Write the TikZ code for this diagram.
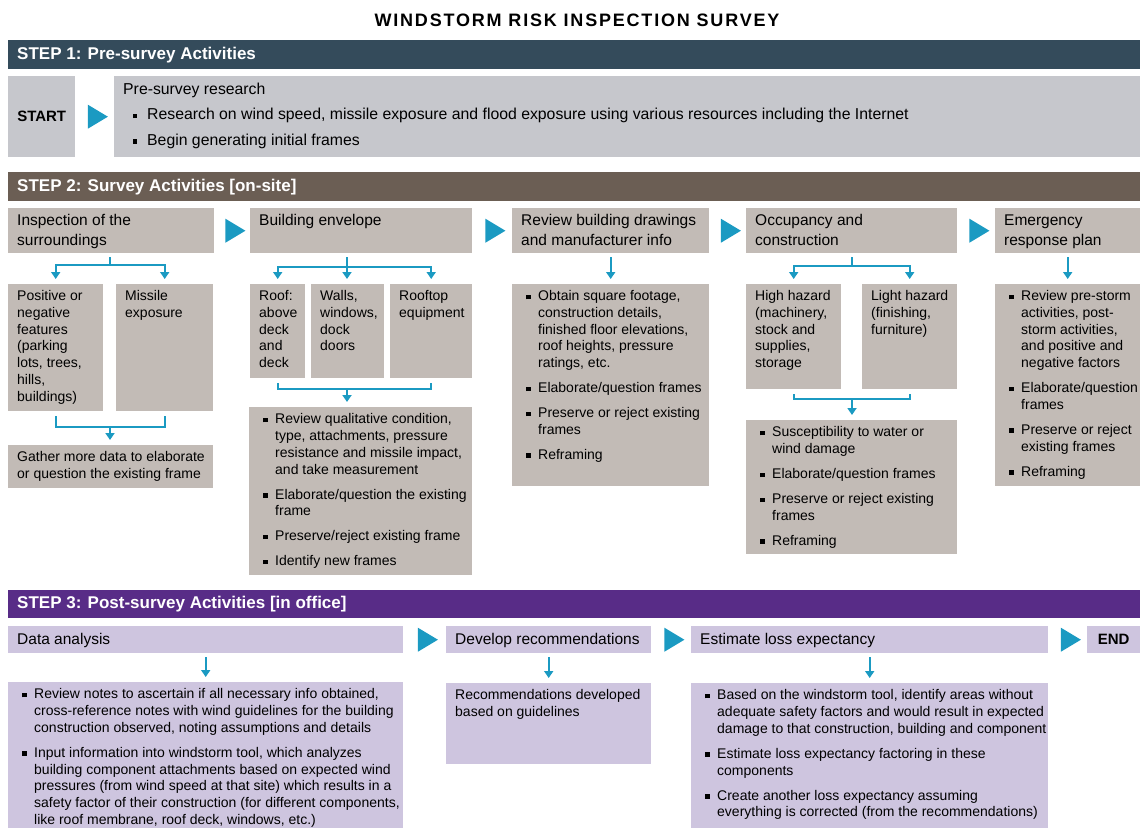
\documentclass[tikz,border=0pt]{standalone}
\usepackage{fontspec}
\setmainfont{Liberation Sans}
\newfontfamily\titlefont[LetterSpace=10]{Liberation Sans}
\usetikzlibrary{arrows.meta,%
	shapes.geometric}

\definecolor{barone}{HTML}{344B5B}
\definecolor{bartwo}{HTML}{6B5E54}
\definecolor{barthree}{HTML}{582C87}
\definecolor{cellone}{HTML}{C6C7CC}
\definecolor{celltwo}{HTML}{C2BBB6}
\definecolor{cellthree}{HTML}{CEC5DF}
\definecolor{flow}{HTML}{1B9AC2}

\newlength{\bulhang}\setlength{\bulhang}{17pt}
\newlength{\bulpre}\setlength{\bulpre}{5pt}
\newlength{\bulgap}\setlength{\bulgap}{8.3pt}
\newif\iffirstbul
\newcommand{\br}{\newline}
\newcommand{\bul}{\par\iffirstbul\firstbulfalse\else\vskip\bulgap\fi
	\noindent\hangindent=\bulhang\hangafter=1%
	\hbox to\bulhang{\hskip\bulpre\rule[1.5pt]{4.5pt}{4.5pt}\hfil}\ignorespaces}
% fixed size box, text hung from the top edge
\newcommand{\Cell}[4][5pt]{\vbox to #3pt{\hsize=#2pt\leftskip=9pt\rightskip=-60pt plus 1fil
	\parindent=0pt\parskip=0pt\parfillskip=0pt plus 1fil\everypar{\strut}\firstbultrue
	\vskip#1\relax #4\par\vfil}}

\tikzset{
	cell/.style={anchor=north west, inner sep=0pt, fill=#1, font=\fontsize{14}{16.7}\selectfont},
	head/.style={cell=#1, font=\fontsize{15.5}{20}\selectfont},
	bar/.style={anchor=north west, inner sep=0pt, fill=#1, text=white, minimum height=29pt,
		font=\fontsize{17}{20}\selectfont\bfseries},
	tri/.style={isosceles triangle, isosceles triangle stretches, fill=flow,
		inner sep=0pt, minimum width=24pt, minimum height=20pt},
	fork/.style={draw=flow, line width=1.8pt},
	branch/.style={fork, -{Triangle[width=9pt,length=7pt]}, shorten >=5pt},
	link/.style={branch, shorten <=4pt}
}

\begin{document}
\begin{tikzpicture}[x=1pt, y=-1pt]
\useasboundingbox (0,0) rectangle (1140,828);

\node[font=\titlefont\bfseries\fontsize{18}{22}\selectfont] (ttl) at (577,20) {WINDSTORM RISK INSPECTION SURVEY};

% step 1
\node[bar=barone] (bar1) at (8,40) {\hbox to 1132pt{\hskip9pt STEP 1: Pre-survey Activities\hfil}};
\node[cell=cellone, minimum width=67pt, minimum height=81pt, font=\fontsize{15}{18}\selectfont\bfseries] (start) at (8,76) {START};
\node[cell=cellone, font=\fontsize{15.8}{18.9}\selectfont] (pre) at (114,76) {\Cell[4.8pt]{1026}{81}{\bulhang=24pt\bulpre=9.75pt\bulgap=6.6pt\firstbulfalse
	Pre-survey research
	\bul Research on wind speed, missile exposure and flood exposure using various resources including the Internet
	\bul Begin generating initial frames}};
\path (start) -- node[tri] {} (pre);

% step 2
\node[bar=bartwo] (bar2) at (8,172) {\hbox to 1132pt{\hskip9pt STEP 2: Survey Activities [on-site]\hfil}};
\node[head=celltwo] (insp) at (8,208) {\Cell[3pt]{206}{45}{Inspection of the\br surroundings}};
\node[head=celltwo] (env) at (250,208) {\Cell[3pt]{222}{45}{Building envelope}};
\node[head=celltwo] (dwg) at (512,208) {\Cell[3pt]{197}{45}{Review building drawings\br and manufacturer info}};
\node[head=celltwo] (occ) at (746,208) {\Cell[3pt]{211}{45}{Occupancy and\br construction}};
\node[head=celltwo] (emer) at (995,208) {\Cell[3pt]{145}{45}{Emergency\br response plan}};
\path (insp) -- node[tri] {} (env);
\path (env) -- node[tri] {} (dwg);
\path (dwg) -- node[tri] {} (occ);
\path (occ) -- node[tri] {} (emer);

\node[cell=celltwo] (pos) at (8,284) {\Cell{95}{127}{Positive or\br negative\br features\br (parking\br lots, trees,\br hills,\br buildings)}};
\node[cell=celltwo] (mis) at (116,284) {\Cell{97}{127}{Missile\br exposure}};
\node[cell=celltwo] (gath) at (8,445) {\Cell{205}{43}{Gather more data to elaborate\br or question the existing frame}};

\node[cell=celltwo] (roof) at (250,284) {\Cell{55}{94}{Roof:\br above\br deck\br and\br deck}};
\node[cell=celltwo] (walls) at (311,284) {\Cell{73}{94}{Walls,\br windows,\br dock\br doors}};
\node[cell=celltwo] (rtop) at (390,284) {\Cell{82}{94}{Rooftop\br equipment}};
\node[cell=celltwo] (rev) at (249,407) {\Cell{223}{168}{%
	\bul Review qualitative condition,\br type, attachments, pressure\br resistance and missile impact,\br and take measurement
	\bul Elaborate/question the existing\br frame
	\bul Preserve/reject existing frame
	\bul Identify new frames}};

\node[cell=celltwo] (obt) at (512,284) {\Cell{197}{202}{%
	\bul Obtain square footage,\br construction details,\br finished floor elevations,\br roof heights, pressure\br ratings, etc.
	\bul Elaborate/question frames
	\bul Preserve or reject existing\br frames
	\bul Reframing}};

\node[cell=celltwo] (high) at (746,284) {\Cell{95}{105}{High hazard\br (machinery,\br stock and\br supplies,\br storage}};
\node[cell=celltwo] (light) at (862,284) {\Cell{95}{105}{Light hazard\br (finishing,\br furniture)}};
\node[cell=celltwo] (susc) at (746,420) {\Cell{211}{134}{%
	\bul Susceptibility to water or\br wind damage
	\bul Elaborate/question frames
	\bul Preserve or reject existing\br frames
	\bul Reframing}};

\node[cell=celltwo] (resp) at (995,284) {\Cell{145}{202}{%
	\bul Review pre-storm\br activities, post-\br storm activities,\br and positive and\br negative factors
	\bul Elaborate/question\br frames
	\bul Preserve or reject\br existing frames
	\bul Reframing}};

% forks and joins
\coordinate (inspj) at (110,265);
\draw[fork, shorten <=4pt] (insp.south -| inspj) -- (inspj);
\draw[branch] (inspj) -| (pos.north);
\draw[branch] (inspj) -| (mis.north);
\coordinate (posj) at (110,427);
\draw[fork, shorten <=5pt, shorten >=5pt] (pos.south) |- (posj) -| (mis.south);
\draw[branch] (posj) -- (posj |- gath.north);

\coordinate (envj) at (347,267);
\draw[fork, shorten <=4pt] (env.south -| envj) -- (envj);
\draw[branch] (envj) -| (roof.north);
\draw[branch] (envj) -- (envj |- walls.north);
\draw[branch] (envj) -| (rtop.north);
\coordinate (roofj) at (347,389);
\draw[fork, shorten <=5pt, shorten >=5pt] (roof.south) |- (roofj) -| (rtop.south);
\draw[branch] (roofj) -- (roofj |- rev.north);

\draw[link] (dwg.south) -- (obt.north);

\coordinate (occj) at (852,266);
\draw[fork, shorten <=4pt] (occ.south -| occj) -- (occj);
\draw[branch] (occj) -| (high.north);
\draw[branch] (occj) -| (light.north);
\coordinate (highj) at (852,399);
\draw[fork, shorten <=5pt, shorten >=5pt] (high.south) |- (highj) -| (light.south);
\draw[branch] (highj) -- (highj |- susc.north);

\draw[link] (emer.south) -- (resp.north);

% step 3
\node[bar=barthree, minimum height=28pt] (bar3) at (8,590) {\hbox to 1132pt{\hskip9pt STEP 3: Post-survey Activities [in office]\hfil}};
\node[head=cellthree] (data) at (8,626) {\Cell[4pt]{395}{27}{Data analysis}};
\node[head=cellthree] (dev) at (446,626) {\Cell[4pt]{205}{27}{Develop recommendations}};
\node[head=cellthree] (est) at (691,626) {\Cell[4pt]{357}{27}{Estimate loss expectancy}};
\node[cell=cellthree, minimum width=53pt, minimum height=27pt, font=\fontsize{15}{18}\selectfont\bfseries] (finish) at (1087,626) {END};
\path (data) -- node[tri] {} (dev);
\path (dev) -- node[tri] {} (est);
\path (est) -- node[tri] {} (finish);

\node[cell=cellthree] (notes) at (8,682) {\Cell{395}{146}{%
	\bul Review notes to ascertain if all necessary info obtained,\br cross-reference notes with wind guidelines for the building\br construction observed, noting assumptions and details
	\bul Input information into windstorm tool, which analyzes\br building component attachments based on expected wind\br pressures (from wind speed at that site) which results in a\br safety factor of their construction (for different components,\br like roof membrane, roof deck, windows, etc.)}};
\node[cell=cellthree] (recs) at (446,683) {\Cell{205}{81}{Recommendations developed\br based on guidelines}};
\node[cell=cellthree] (loss) at (691,683) {\Cell{357}{145}{%
	\bul Based on the windstorm tool, identify areas without\br adequate safety factors and would result in expected\br damage to that construction, building and component
	\bul Estimate loss expectancy factoring in these\br components
	\bul Create another loss expectancy assuming\br everything is corrected (from the recommendations)}};

\draw[link] (data.south) -- (notes.north);
\draw[link] (dev.south) -- (recs.north);
\draw[link] (est.south) -- (loss.north);
\end{tikzpicture}
\end{document}
